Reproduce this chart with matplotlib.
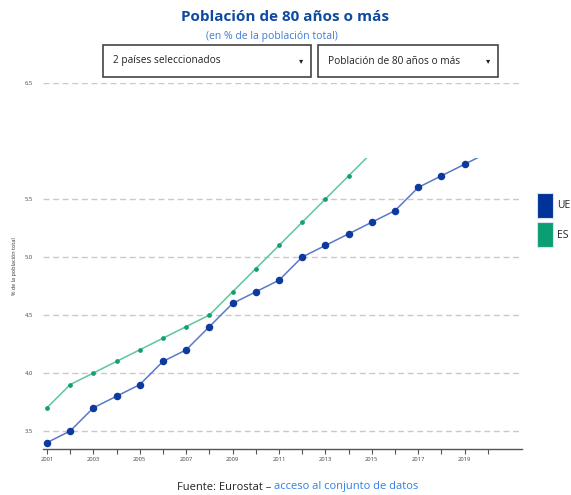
import matplotlib.pyplot as plt
from matplotlib.patches import Rectangle

plt.rcParams['font.family'] = ['Open Sans', 'DejaVu Sans']

years_ue = list(range(2001, 2021))
ue = [3.4, 3.5, 3.7, 3.8, 3.9, 4.1, 4.2, 4.4, 4.6, 4.7,
      4.8, 5.0, 5.1, 5.2, 5.3, 5.4, 5.6, 5.7, 5.8, 5.9]
years_es = list(range(2001, 2016))
es = [3.7, 3.9, 4.0, 4.1, 4.2, 4.3, 4.4, 4.5, 4.7, 4.9,
      5.1, 5.3, 5.5, 5.7, 5.9]
yticks = [3.5, 4.0, 4.5, 5.0, 5.5, 6.5]
xlabels = [str(y) if y % 2 == 1 else '' for y in range(2001, 2021)]

W, H = 571, 495
fig = plt.figure(figsize=(W / 100, H / 100), dpi=100)
ax = fig.add_axes([43 / W, 1 - 449 / H, (522 - 43) / W, (449 - 83) / H])

grid_col = '#c9c9c9'
for v in yticks:
    ax.axhline(v, color=grid_col, lw=1, ls=(0, (4.3, 2.6)), zorder=1)

l_es, = ax.plot(years_es, es, color='#5cc79d', lw=1.1, marker='o', ms=2.4,
                mfc='#14a06e', mec='#14a06e', zorder=3)
l_ue, = ax.plot(years_ue, ue, color='#5b78c9', lw=1.1, marker='o', ms=4.4,
                mfc='#0c3a9e', mec='#0c3a9e', zorder=3)

# series stop partway up the plot area
clip = Rectangle((2000, 3.0), 30, 5.855 - 3.0, transform=ax.transData)
l_es.set_clip_path(clip)
l_ue.set_clip_path(clip)

ax.set_xlim(2000.83, 2021.47)
ax.set_ylim(3.345, 6.5)
ax.set_yticks(yticks)
ax.set_yticklabels([f'{v:.1f}' for v in yticks], fontsize=4.2, color='#444444')
ax.set_xticks(range(2001, 2021))
ax.set_xticklabels(xlabels, fontsize=4.2, color='#444444')
ax.tick_params(axis='y', length=0, pad=7)
ax.tick_params(axis='x', length=3.5, width=0.8, color='#555555', pad=2)
for s in ['top', 'right', 'left']:
    ax.spines[s].set_visible(False)
ax.spines['bottom'].set_color('#555555')
ax.spines['bottom'].set_linewidth(1)
ax.set_ylabel('% de la población total', fontsize=4, color='#333333', labelpad=6)

# header
fig.text(285 / W, 1 - 17 / H, 'Población de 80 años o más', ha='center', va='center',
         fontsize=11, fontweight='bold', color='#0e4a9f')
fig.text(272 / W, 1 - 37 / H, '(en % de la población total)', ha='center', va='center',
         fontsize=7.5, color='#3f7ad6')

# dropdown boxes
for x0, x1, label in [(103, 311, '2 países seleccionados'),
                      (318, 498, 'Población de 80 años o más')]:
    fig.add_artist(Rectangle((x0 / W, 1 - 77 / H), (x1 - x0) / W, 32 / H,
                             transform=fig.transFigure, fill=False,
                             ec='#444444', lw=1.2))
    fig.text((x0 + 10) / W, 1 - 61 / H, label, ha='left', va='center',
             fontsize=7.3, color='#222222')
    fig.text((x1 - 10) / W, 1 - 61 / H, '▾', ha='center', va='center',
             fontsize=6, color='#222222', family=['DejaVu Sans'])

# legend
for i, (name, col) in enumerate([('UE', '#003399'), ('ES', '#0a9e72')]):
    y0 = 193 + i * 29
    fig.add_artist(Rectangle((537 / W, 1 - (y0 + 25) / H), 16 / W, 25 / H,
                             transform=fig.transFigure, fc=col, ec='#d9e2f2', lw=0.8))
    fig.text(557 / W, 1 - (y0 + 13) / H, name, ha='left', va='center',
             fontsize=7.5, color='#222222')

# source line
t1 = fig.text(177 / W, 1 - 487 / H, 'Fuente: Eurostat – ', ha='left', va='center',
              fontsize=8, color='#222222')
fig.canvas.draw()
bb = t1.get_window_extent()
fig.text(bb.x1 / W, 1 - 487 / H, 'acceso al conjunto de datos', ha='left', va='center',
         fontsize=8, color='#2f80e6')

fig.savefig('out.png', dpi=100)
